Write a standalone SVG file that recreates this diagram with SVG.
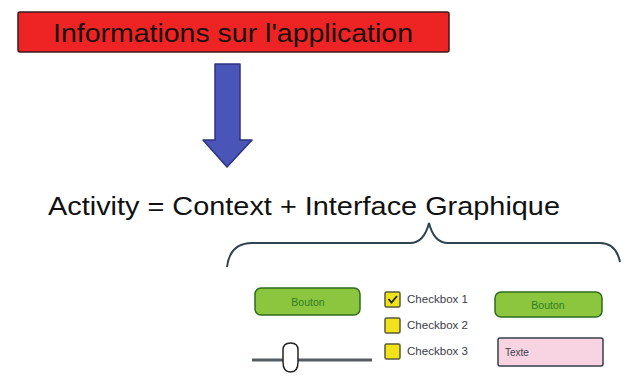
<svg xmlns="http://www.w3.org/2000/svg" width="624" height="378" viewBox="0 0 624 378">
<style>
text{font-family:"Liberation Sans",Arial,sans-serif}
.btn{fill:#8cc63e;stroke:#2f6b1e;stroke-width:1.5}
.btnt{font-size:10.5px;fill:#2e7d24;text-anchor:middle}
.cb{fill:#f2e21a;stroke:#5a5a3a;stroke-width:1.5}
.cbt{font-size:10.5px;fill:#3a4048}
</style>
<rect width="624" height="378" fill="#ffffff"/>
<g id="info">
<rect x="18" y="12" width="431" height="40" rx="2" fill="#ee2424" stroke="#3a1a1a" stroke-width="1.5"/>
<text x="53" y="42" font-size="25" textLength="360" lengthAdjust="spacingAndGlyphs" fill="#1a1010">Informations sur l'application</text>
</g>
<g id="connectors">
<path d="M215,64 H240 V140 H252 L227,167 L203,140 H215 Z" fill="#4a55b8" stroke="#2c3380" stroke-width="1.5" stroke-linejoin="round"/>
<path d="M227,267 Q230,243 252,243 H410 Q424,243 429,223 Q434,243 448,243 H600 Q616,243 620,262" fill="none" stroke="#2e4450" stroke-width="2"/>
</g>
<g id="activity">
<text x="48" y="215" font-size="26" textLength="512" lengthAdjust="spacingAndGlyphs" fill="#111">Activity = Context + Interface Graphique</text>
</g>
<g id="bouton1">
<rect class="btn" x="255" y="288" width="105" height="27" rx="6"/>
<text class="btnt" x="308" y="305.5">Bouton</text>
</g>
<g id="checkbox1">
<rect class="cb" x="385" y="292" width="15" height="15" rx="1.5"/>
<path d="M388.5,299 L391.5,302.5 L397,296" fill="none" stroke="#222" stroke-width="1.8"/>
<text class="cbt" x="407" y="303" textLength="61" lengthAdjust="spacingAndGlyphs">Checkbox 1</text>
</g>
<g id="checkbox2">
<rect class="cb" x="385" y="318" width="15" height="15" rx="1.5"/>
<text class="cbt" x="407" y="329" textLength="61" lengthAdjust="spacingAndGlyphs">Checkbox 2</text>
</g>
<g id="checkbox3">
<rect class="cb" x="385" y="344" width="15" height="15" rx="1.5"/>
<text class="cbt" x="407" y="355" textLength="61" lengthAdjust="spacingAndGlyphs">Checkbox 3</text>
</g>
<g id="bouton2">
<rect class="btn" x="495" y="292" width="107" height="25" rx="6"/>
<text class="btnt" x="548" y="308.5">Bouton</text>
</g>
<g id="texte">
<rect x="498" y="338" width="105" height="28" rx="2" fill="#f8d3e2" stroke="#3a3f48" stroke-width="1.5"/>
<text x="505" y="356" font-size="10" fill="#3a3f48">Texte</text>
</g>
<g id="slider">
<line x1="252" y1="360" x2="372" y2="360" stroke="#555c60" stroke-width="3"/>
<path d="M283,362 V350 Q283,343 290.5,343 Q298,343 298,350 V362 Q298,372 290.5,372 Q283,372 283,362 Z" fill="#fff" stroke="#222" stroke-width="1.5"/>
</g>
</svg>
